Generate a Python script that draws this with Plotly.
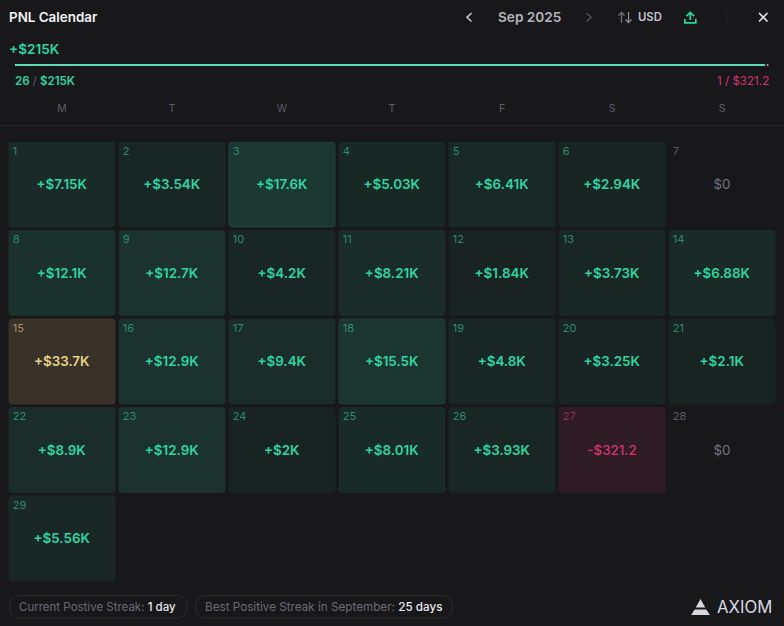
# PNL calendar, Sep 2025
import plotly.graph_objects as go

W, H = 784, 626

days = [1, 2, 3, 4, 5, 6, 7, 8, 9, 10, 11, 12, 13, 14, 15,
        16, 17, 18, 19, 20, 21, 22, 23, 24, 25, 26, 27, 28, 29]
pnl_values = [7150, 3540, 17600, 5030, 6410, 2940, 0, 12100, 12700, 4200, 8210, 1840, 3730, 6880, 33700,
              12900, 9400, 15500, 4800, 3250, 2100, 8900, 12900, 2000, 8010, 3930, -321.2, 0, 5560]
pnl_labels = ['+$7.15K', '+$3.54K', '+$17.6K', '+$5.03K', '+$6.41K', '+$2.94K', '$0',
              '+$12.1K', '+$12.7K', '+$4.2K', '+$8.21K', '+$1.84K', '+$3.73K', '+$6.88K',
              '+$33.7K', '+$12.9K', '+$9.4K', '+$15.5K', '+$4.8K', '+$3.25K', '+$2.1K',
              '+$8.9K', '+$12.9K', '+$2K', '+$8.01K', '+$3.93K', '-$321.2', '$0', '+$5.56K']
weekdays = ['M', 'T', 'W', 'T', 'F', 'S', 'S']
total_gain = 215000
total_loss = 321.2

BG = '#18181b'
GREEN = '#2fd5a0'
PINK = '#d33370'
GOLD = '#e8d28a'
FONT = 'Inter'


def mix(a, b, t):
    return tuple(round(a[i] + (b[i] - a[i]) * t) for i in range(3))


def rgb(c):
    return 'rgb(%d,%d,%d)' % c


best = max(pnl_values)
fills, borders, text_cols, num_cols, text_weights = [], [], [], [], []
for v in pnl_values:
    if v == 0:
        fills.append('rgba(0,0,0,0)'); borders.append('rgba(0,0,0,0)')
        text_cols.append('#74747f'); num_cols.append('#5a5a64'); text_weights.append(400)
    elif v < 0:
        fills.append('#2f1c25'); borders.append('#2f1c25')
        text_cols.append(PINK); num_cols.append('#8c2c50'); text_weights.append(500)
    elif v == best:
        fills.append('#383228'); borders.append('#383228')
        text_cols.append(GOLD); num_cols.append('#a3926a'); text_weights.append(600)
    else:
        c = rgb(mix((23, 33, 32), (28, 56, 51), min(v / 17600, 1)))
        edge = rgb(mix((23, 33, 32), (32, 66, 60), min(v / 17600, 1))) if v >= 15000 else c
        fills.append(c); borders.append(edge)
        text_cols.append(GREEN); num_cols.append('#2f8a6f'); text_weights.append(600)

cols = [(d - 1) % 7 for d in days]
rows = [(d - 1) // 7 for d in days]

fig = go.Figure()

# Kalender-Zellen
fig.add_trace(go.Bar(
    x=cols, y=[0.96] * len(days), base=rows, width=106 / 110,
    marker=dict(color=fills, line=dict(color=borders, width=1), cornerradius=3),
    text=pnl_labels, textposition='inside', insidetextanchor='middle', textangle=0,
    constraintext='none',
    textfont=dict(color=text_cols, size=13.4, family=FONT, weight=text_weights),
    hoverinfo='skip', showlegend=False,
))
fig.add_trace(go.Scatter(
    x=[c - 0.447 for c in cols], y=[r + 0.115 for r in rows],
    mode='text', text=[str(d) for d in days], textposition='middle right',
    textfont=dict(color=num_cols, size=11, family=FONT),
    hoverinfo='skip', showlegend=False,
))

# Fortschrittsbalken
fig.add_trace(go.Bar(
    x=[total_gain], y=[0], orientation='h', width=1, xaxis='x2', yaxis='y2',
    marker=dict(color=GREEN, cornerradius=0), hoverinfo='skip', showlegend=False,
))
fig.add_trace(go.Bar(
    x=[total_loss], y=[0], base=[total_gain + 700], orientation='h', width=1, xaxis='x2', yaxis='y2',
    marker=dict(color='#8c2c50', cornerradius=0), hoverinfo='skip', showlegend=False,
))


def px_x(x):
    return x / W


def px_y(y):
    return 1 - y / H


def path(points, close=False):
    s = 'M ' + ' L '.join('%.5f %.5f' % (px_x(x), px_y(y)) for x, y in points)
    return s + (' Z' if close else '')


def note(x, y, text, size=12, color='#ffffff', anchor='left', weight=400):
    fig.add_annotation(x=px_x(x), y=px_y(y), xref='paper', yref='paper', text=text, showarrow=False,
                       xanchor=anchor, yanchor='middle', borderpad=0,
                       font=dict(family=FONT, size=size, color=color, weight=weight))


def stroke(points, color, width=1.5):
    fig.add_shape(type='path', path=path(points), xref='paper', yref='paper',
                  line=dict(color=color, width=width))


def solid(points, color):
    fig.add_shape(type='path', path=path(points, True), xref='paper', yref='paper',
                  fillcolor=color, line=dict(width=0))


def pill(x0, x1, y0, y1):
    # Pille mit runden Enden
    r = (y1 - y0) / 2
    xa, xb = px_x(x0), px_x(x1)
    xc, xd = px_x(x0 + r), px_x(x1 - r)
    ya, yb, ym = px_y(y0), px_y(y1), px_y((y0 + y1) / 2)
    p = ('M %.5f %.5f L %.5f %.5f Q %.5f %.5f %.5f %.5f Q %.5f %.5f %.5f %.5f '
         'L %.5f %.5f Q %.5f %.5f %.5f %.5f Q %.5f %.5f %.5f %.5f Z'
         % (xc, ya, xd, ya, xb, ya, xb, ym, xb, yb, xd, yb,
            xc, yb, xa, yb, xa, ym, xa, ya, xc, ya))
    fig.add_shape(type='path', path=p, xref='paper', yref='paper',
                  line=dict(color='#26262b', width=1.2))


# Kopfzeile
note(8, 17, 'PNL Calendar', 13.4, '#f2f2f4', weight=600)
note(529, 17, 'Sep 2025', 13.6, '#b4b4bc', 'center', 600)
note(650, 17, 'USD', 11.3, '#c4c4cc', 'center', 600)
stroke([(471.5, 13), (467, 17.3), (471.5, 21.5)], '#c4c4cc', 1.6)
stroke([(586.5, 13), (591, 17.3), (586.5, 21.5)], '#55555e', 1.4)
stroke([(621.5, 23), (621.5, 12.5)], '#70707a', 1.3)
stroke([(618.5, 15.5), (621.5, 12.5), (624.5, 15.5)], '#70707a', 1.3)
stroke([(628.5, 12), (628.5, 22.5)], '#8c8c94', 1.3)
stroke([(625.5, 19.5), (628.5, 22.5), (631.5, 19.5)], '#8c8c94', 1.3)
stroke([(690.3, 20), (690.3, 12.5)], GREEN, 1.7)
stroke([(686.5, 16), (690.3, 12.5), (694.1, 16)], GREEN, 1.7)
stroke([(684.8, 19), (684.8, 22.8), (695.8, 22.8), (695.8, 19)], GREEN, 1.7)
stroke([(726.5, 9), (726.5, 24)], '#232327', 1)
stroke([(759, 13), (767.5, 21.5)], '#e0e0e4', 1.7)
stroke([(767.5, 13), (759, 21.5)], '#e0e0e4', 1.7)

# Summen
note(8, 49, '+$215K', 13.6, GREEN, weight=600)
note(14, 81, '26 <span style="color:#4a4a52">/</span> $215K', 11.6, GREEN, weight=600)
note(769.5, 81, '1 / $321.2', 11.6, PINK, 'right')
stroke([(0, 125.5), (784, 125.5)], '#252529', 1)

# Fusszeile
pill(9.5, 187, 595.5, 618)
pill(195.5, 452.5, 595.5, 618)
note(18, 607, 'Current Postive Streak: <span style="color:#e6e6ea;font-weight:500">1 day</span>', 11.5, '#6a6a74')
note(204, 607, 'Best Positive Streak in September: <span style="color:#e6e6ea;font-weight:500">25 days</span>', 11.7, '#6a6a74')
solid([(700.5, 599), (705.3, 607.5), (695.7, 607.5)], '#d8d8e0')
solid([(694.6, 609.5), (706.4, 609.5), (709.8, 615), (691.2, 615)], '#d8d8e0')
note(716, 607, 'AXIOM', 16.7, '#d8d8e0')

fig.update_layout(
    width=W, height=H, margin=dict(l=0, r=0, t=0, b=0, pad=0, autoexpand=False),
    paper_bgcolor=BG, plot_bgcolor=BG, barmode='overlay', showlegend=False,
    xaxis=dict(domain=[7 / W, 777 / W], range=[-0.5, 6.5], side='top',
               tickmode='array', tickvals=list(range(7)), ticktext=weekdays,
               ticks='outside', ticklen=25, tickcolor='rgba(0,0,0,0)',
               tickfont=dict(family=FONT, size=10.5, color='#5e5e68'),
               showgrid=False, zeroline=False, showline=False, fixedrange=True),
    yaxis=dict(domain=[1 - 584.5 / H, 1 - 142 / H], range=[5, 0], visible=False, fixedrange=True),
    xaxis2=dict(domain=[15 / W, 768.5 / W], range=[0, 216080], visible=False, anchor='y2', fixedrange=True),
    yaxis2=dict(domain=[1 - 66 / H, 1 - 64 / H], range=[-0.5, 0.5], visible=False, anchor='x2', fixedrange=True),
)

fig.write_html("out.html", config=dict(displayModeBar=False),
               post_script="document.body.style.margin='0';document.body.style.background='%s';" % BG)
